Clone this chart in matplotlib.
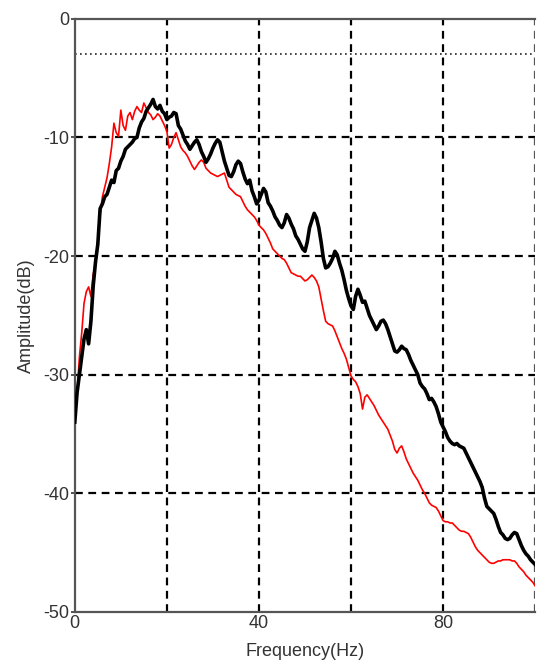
import numpy as np
import matplotlib
matplotlib.use('Agg')
import matplotlib.pyplot as plt

plt.rcParams['font.family'] = ['Liberation Sans', 'DejaVu Sans']

# frequency bins (Hz), 0.5 Hz step
freq = np.arange(0, 100.5, 0.5)

# amplitude spectra (dB)
amp_black = [
    -34.0, -31.5, -30.0, -28.5, -27.0, -26.2, -27.4, -25.5, -22.5, -20.5,
    -19.0, -16.0, -15.6, -15.0, -14.8, -14.2, -13.6, -13.8, -12.8, -12.6,
    -12.0, -11.6, -11.0, -10.8, -10.6, -10.4, -10.1, -10.0, -9.2, -8.7,
    -8.4, -7.8, -7.5, -7.2, -6.8, -7.4, -7.6, -7.3, -7.8, -8.0,
    -8.5, -8.3, -8.2, -7.9, -8.0, -9.0, -9.3, -9.8, -10.3, -10.6,
    -11.0, -10.7, -10.4, -10.2, -10.6, -11.2, -11.6, -12.1, -11.8, -11.4,
    -10.9, -10.5, -10.2, -10.4, -11.2, -12.0, -12.6, -13.2, -13.3, -12.9,
    -12.3, -12.0, -12.2, -12.9, -13.5, -13.9, -13.6, -14.5, -15.0, -15.6,
    -15.3, -14.8, -14.3, -14.6, -15.5, -15.8, -16.2, -16.7, -17.0, -17.4,
    -17.6, -17.2, -16.5, -16.8, -17.3, -17.7, -18.3, -18.6, -19.0, -19.4,
    -19.6, -18.8, -17.6, -17.0, -16.4, -16.8, -17.6, -18.8, -20.2, -21.0,
    -20.9, -20.6, -20.2, -19.6, -19.9, -20.6, -21.2, -22.0, -22.9, -23.6,
    -24.2, -24.5, -23.4, -22.8, -23.3, -23.9, -23.8, -24.4, -25.0, -25.4,
    -25.8, -26.2, -25.9, -25.5, -25.4, -25.7, -26.2, -26.8, -27.4, -28.0,
    -28.1, -27.9, -27.6, -27.8, -27.9, -28.3, -28.8, -29.2, -29.6, -30.0,
    -30.7, -31.0, -31.2, -31.6, -32.1, -32.0, -32.3, -32.7, -33.3, -34.0,
    -34.4, -34.8, -35.3, -35.6, -35.8, -35.9, -35.8, -36.0, -36.1, -36.2,
    -36.6, -37.0, -37.4, -37.8, -38.2, -38.6, -39.0, -39.5, -40.4, -41.1,
    -41.3, -41.5, -41.7, -42.2, -42.8, -43.3, -43.5, -43.8, -43.9, -43.8,
    -43.5, -43.3, -43.4, -43.9, -44.4, -44.8, -45.1, -45.3, -45.6, -45.8,
    -46.0,
]

amp_red = [
    -33.5, -31.5, -28.5, -26.5, -24.0, -23.0, -22.6, -23.4, -21.5, -20.8,
    -19.0, -16.5, -15.0, -14.2, -13.4, -12.2, -10.8, -8.8, -9.6, -9.9,
    -7.7, -9.0, -9.4, -8.2, -7.9, -8.5, -7.8, -7.4, -7.7, -7.9,
    -7.1, -7.5, -7.9, -8.1, -8.5, -8.3, -8.0, -8.2, -8.6, -9.0,
    -9.5, -10.9, -10.6, -10.0, -9.6, -10.2, -10.8, -11.1, -11.3, -11.6,
    -12.0, -12.4, -12.7, -12.4, -12.1, -11.9, -12.1, -12.6, -12.8, -13.0,
    -13.1, -13.2, -13.3, -13.2, -13.1, -13.0, -13.6, -14.2, -14.4, -14.6,
    -14.8, -14.9, -15.0, -15.4, -15.8, -16.1, -16.3, -16.5, -16.7, -17.0,
    -17.4, -17.6, -17.8, -18.1, -18.5, -18.9, -19.4, -19.6, -19.8, -20.0,
    -20.2, -20.3, -20.6, -21.0, -21.4, -21.5, -21.6, -21.7, -21.7, -21.9,
    -22.1, -22.0, -21.8, -21.6, -21.8, -22.1, -22.6, -23.6, -24.6, -25.5,
    -25.7, -25.8, -25.9, -26.3, -26.8, -27.3, -27.8, -28.2, -28.7, -29.4,
    -30.1, -30.4, -30.6, -31.0, -31.6, -32.9, -31.9, -31.7, -32.0, -32.3,
    -32.6, -33.0, -33.4, -33.7, -34.0, -34.3, -34.6, -35.1, -35.6, -36.3,
    -36.6, -36.2, -36.0, -36.5, -37.1, -37.5, -37.9, -38.3, -38.6, -38.9,
    -39.3, -39.7, -40.0, -40.4, -40.8, -41.0, -41.1, -41.2, -41.5, -41.9,
    -42.3, -42.4, -42.4, -42.5, -42.5, -42.7, -42.9, -43.1, -43.2, -43.2,
    -43.3, -43.4, -43.7, -44.1, -44.5, -44.8, -45.0, -45.2, -45.4, -45.6,
    -45.8, -45.9, -45.9, -45.8, -45.7, -45.7, -45.6, -45.6, -45.6, -45.6,
    -45.7, -45.7, -45.9, -46.2, -46.4, -46.6, -46.9, -47.1, -47.3, -47.5,
    -47.8,
]

ref_level = -3.0
x_grid = [20, 40, 60, 80]
y_grid = [-10, -20, -30, -40]
x_ticks = [0, 40, 80]
y_ticks = [0, -10, -20, -30, -40, -50]

fig = plt.figure(figsize=(5.5, 6.71), dpi=100)
ax = fig.add_axes([0.136, 0.088, 0.837, 0.884])

for xv in x_grid:
    ax.axvline(xv, color='black', lw=1.6, ls=(0, (3.5, 2.5)), zorder=1)
for yv in y_grid:
    ax.axhline(yv, color='black', lw=1.6, ls=(0, (3.5, 2.5)), zorder=1)
ax.axvline(100, color='#555555', lw=1.6, ls=(0, (3.5, 2.5)), zorder=1)
ax.axhline(ref_level, color='#222222', lw=1.2, ls=(0, (1, 2)), zorder=1)

ax.plot(freq, amp_red, color='#ff0000', lw=1.2, zorder=2)
ax.plot(freq, amp_black, color='black', lw=2.6, zorder=3)

ax.set_xlim(0, 100)
ax.set_ylim(-50, 0)
ax.set_xticks(x_ticks)
ax.set_yticks(y_ticks)
ax.set_yticklabels([str(v) for v in y_ticks])
ax.tick_params(axis='both', labelsize=13, colors='#333333', length=3, width=1.2)
ax.tick_params(axis='x', length=0, pad=2)
ax.tick_params(axis='y', pad=1)

for side in ['left', 'bottom', 'top']:
    ax.spines[side].set_color('#555555')
    ax.spines[side].set_linewidth(1.6)
ax.spines['right'].set_visible(False)

ax.set_xlabel('Frequency(Hz)', fontsize=13, color='#333333', labelpad=8)
ax.set_ylabel('Amplitude(dB)', fontsize=13, color='#333333', labelpad=6)

fig.savefig('out.png', dpi=100)
